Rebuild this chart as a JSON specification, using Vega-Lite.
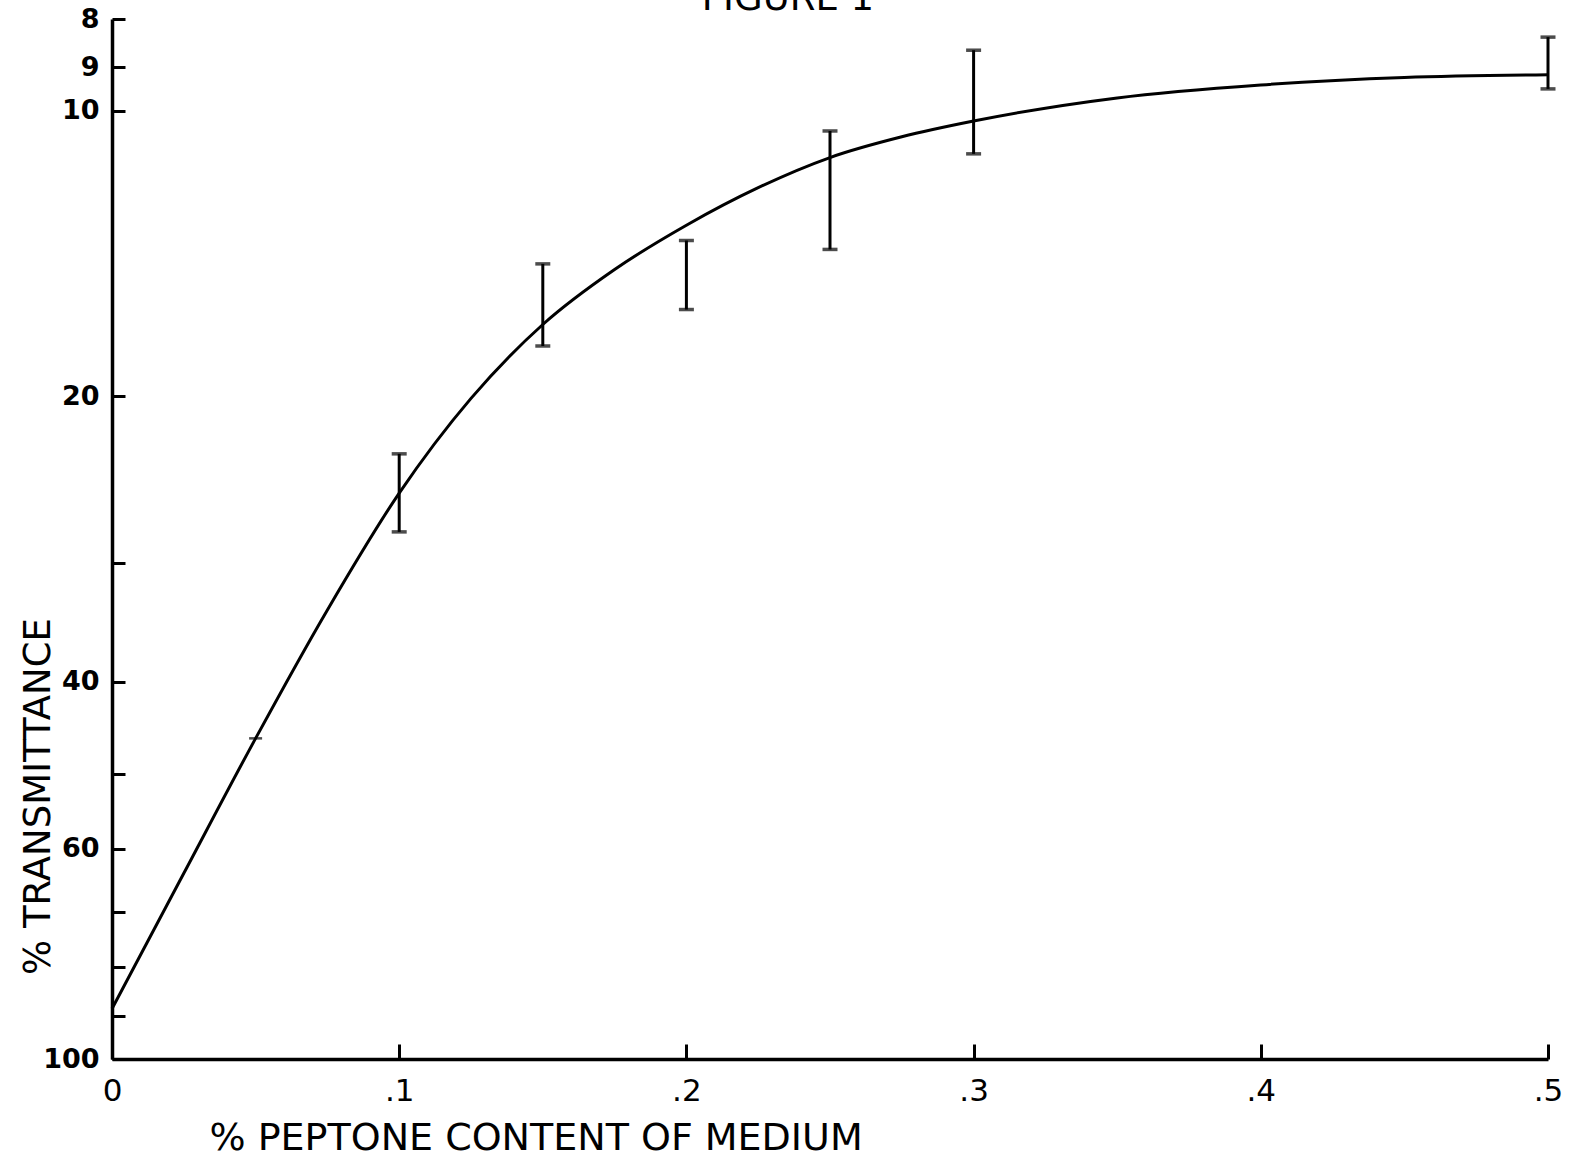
{
  "$schema": "https://vega.github.io/schema/vega-lite/v6.json",
  "autosize": {"type": "none"},
  "width": 1436,
  "height": 1040,
  "padding": {"left": 112, "top": 19, "right": 33, "bottom": 105},
  "background": "white",
  "title": {"text": "FIGURE 1", "font": "DejaVu Sans", "fontSize": 37, "fontWeight": "normal", "color": "black", "anchor": "middle", "dx": -42, "dy": 42, "offset": 0, "baseline": "alphabetic"},
  "config": {
    "view": {"stroke": null},
    "font": "DejaVu Sans",
    "axis": {"grid": false, "labelFlush": false, "domainColor": "black", "domainWidth": 3.5, "tickColor": "black", "tickWidth": 3, "labelColor": "black", "titleColor": "black", "labelFont": "DejaVu Sans", "titleFont": "DejaVu Sans", "titleFontWeight": "normal"}
  },
  "datasets": {
    "curve": [
      {"peptone": 0.0, "transmittance": 88.5},
      {"peptone": 0.025, "transmittance": 63.7},
      {"peptone": 0.05, "transmittance": 45.9},
      {"peptone": 0.075, "transmittance": 33.6},
      {"peptone": 0.1, "transmittance": 25.3},
      {"peptone": 0.125, "transmittance": 20.1},
      {"peptone": 0.15, "transmittance": 16.8},
      {"peptone": 0.175, "transmittance": 14.7},
      {"peptone": 0.2, "transmittance": 13.2},
      {"peptone": 0.225, "transmittance": 12.05},
      {"peptone": 0.25, "transmittance": 11.2},
      {"peptone": 0.275, "transmittance": 10.65},
      {"peptone": 0.3, "transmittance": 10.25},
      {"peptone": 0.35, "transmittance": 9.69},
      {"peptone": 0.4, "transmittance": 9.39},
      {"peptone": 0.45, "transmittance": 9.22},
      {"peptone": 0.5, "transmittance": 9.16}
    ],
    "bars": [
      {"peptone": 0.1, "low": 23.0, "high": 27.8},
      {"peptone": 0.15, "low": 14.5, "high": 17.7},
      {"peptone": 0.2, "low": 13.7, "high": 16.2},
      {"peptone": 0.25, "low": 10.5, "high": 14.0},
      {"peptone": 0.3, "low": 8.63, "high": 11.1},
      {"peptone": 0.5, "low": 8.36, "high": 9.48}
    ],
    "marker": [
      {"peptone": 0.05, "transmittance": 45.9}
    ]
  },
  "encoding": {
    "x": {
      "field": "peptone", "type": "quantitative",
      "scale": {"domain": [0, 0.5], "nice": false, "zero": false},
      "axis": {
        "values": [0, 0.1, 0.2, 0.3, 0.4, 0.5],
        "labelExpr": "datum.value == 0 ? '0' : replace(format(datum.value, '.1f'), '0.', '.')",
        "tickSize": -15, "labelPadding": 32, "labelFontSize": 31, "labelFontWeight": "normal",
        "title": "% PEPTONE CONTENT OF MEDIUM", "titleFontSize": 38,
        "titleAnchor": "start", "titleAlign": "left", "titleBaseline": "alphabetic",
        "titleX": 97, "titleY": 90
      }
    },
    "y": {
      "type": "quantitative",
      "scale": {"type": "log", "domain": [8, 100], "nice": false, "reverse": true},
      "axis": {
        "values": [8, 9, 10, 20, 30, 40, 50, 60, 70, 80, 90, 100],
        "labelExpr": "indexof([8, 9, 10, 20, 40, 60, 100], datum.value) >= 0 ? format(datum.value, 'd') : ''",
        "tickSize": -13, "labelPadding": 26, "labelFontSize": 27, "labelFontWeight": "bold",
        "title": "% TRANSMITTANCE", "titleFontSize": 37, "titleAngle": -90,
        "titleAlign": "center", "titleBaseline": "alphabetic",
        "titleX": -63, "titleY": 777
      }
    }
  },
  "layer": [
    {
      "data": {"name": "curve"},
      "mark": {"type": "line", "color": "black", "strokeWidth": 3, "interpolate": "monotone"},
      "encoding": {"y": {"field": "transmittance", "type": "quantitative"}}
    },
    {
      "data": {"name": "bars"},
      "mark": {"type": "rule", "color": "black", "strokeWidth": 3},
      "encoding": {"y": {"field": "low", "type": "quantitative"}, "y2": {"field": "high"}}
    },
    {
      "data": {"name": "bars"},
      "mark": {"type": "tick", "orient": "horizontal", "color": "black", "size": 15, "thickness": 3.5},
      "encoding": {"y": {"field": "low", "type": "quantitative"}}
    },
    {
      "data": {"name": "bars"},
      "mark": {"type": "tick", "orient": "horizontal", "color": "black", "size": 15, "thickness": 3.5},
      "encoding": {"y": {"field": "high", "type": "quantitative"}}
    },
    {
      "data": {"name": "marker"},
      "mark": {"type": "tick", "orient": "horizontal", "color": "black", "size": 13, "thickness": 2.5},
      "encoding": {"y": {"field": "transmittance", "type": "quantitative"}}
    }
  ]
}
